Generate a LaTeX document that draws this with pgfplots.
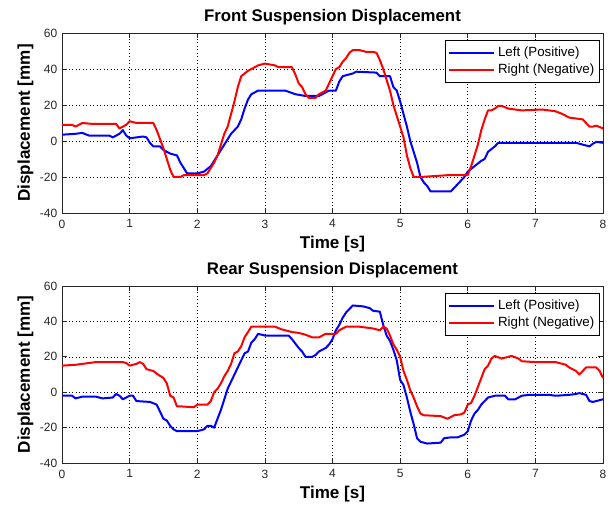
\documentclass[border=0pt]{standalone}
\usepackage{pgfplots}
\pgfplotsset{compat=1.18}
\usepackage{fontspec}
\setmainfont{Liberation Sans}
\begin{document}
\begin{tikzpicture}
\pgfplotsset{
  msty/.style={
    scale only axis, width=405.75pt,
    xmin=0, xmax=8, ymin=-40, ymax=60,
    xtick={0,...,8}, ytick={-40,-20,0,20,40,60},
    tick align=inside, tick pos=both, major tick length=4pt,
    grid=major,
    major grid style={black, line width=0.4pt, dash pattern=on 0.6pt off 2pt},
    axis line style={black!85, line width=0.5pt},
    tick style={black!85, line width=0.5pt},
    /pgf/number format/assume math mode=true,
    ticklabel style={font=\fontsize{9}{10}\selectfont, text=black!85},
    xticklabel style={yshift=-1.5pt},
    title style={font=\bfseries\fontsize{12.6}{14}\selectfont, yshift=-3.5pt},
    label style={font=\bfseries\fontsize{12.8}{14}\selectfont},
    xlabel style={yshift=1pt},
    ylabel style={yshift=-2pt},
    xlabel={Time [s]}, ylabel={Displacement [mm]},
    legend style={at={(1,1)}, anchor=north east, xshift=-2.25pt, yshift=-5.25pt,
      draw=black, line width=0.5pt, fill=white,
      font=\fontsize{10}{12}\selectfont, inner xsep=2pt, inner ysep=3pt, row sep=0pt,
      /tikz/every even column/.append style={column sep=0pt}},
    legend cell align=left,
    legend image code/.code={\draw[##1, line width=1.4pt] (0pt,0pt) -- (34pt,0pt);},
    every axis plot/.append style={line width=1.5pt, line join=round},
  }
}
\path[use as bounding box] (0,0) rectangle (456.75pt,-382.5pt);
\begin{axis}[msty, height=135pt, at={(46.5pt,-24.75pt)}, anchor=north west,
  title={Front Suspension Displacement}]
\addplot[blue] coordinates {
(0,3.5)(0.2,4)(0.3,4.5)(0.4,3)(0.7,3)(0.75,2)(0.85,4)(0.9,6)(0.95,3)(1.0,1.5)(1.2,2.5)(1.25,2)(1.3,-1)(1.35,-3)(1.45,-3)(1.5,-5)(1.6,-7)(1.7,-8)(1.75,-12)(1.8,-15)(1.85,-18)(2.0,-18)(2.1,-17)(2.2,-14)(2.3,-8)(2.4,-2)(2.5,4)(2.6,8)(2.65,12)(2.7,18)(2.75,23)(2.8,26)(2.9,28)(3.3,28)(3.45,26)(3.6,25)(3.8,25)(3.9,27)(3.95,28)(4.05,28)(4.1,33)(4.15,36)(4.25,37)(4.3,37.5)(4.35,38.5)(4.65,38)(4.7,36)(4.85,36)(4.9,30)(4.95,28)(5.0,22)(5.05,15)(5.1,8)(5.15,0)(5.2,-6)(5.25,-12)(5.3,-20)(5.35,-23)(5.4,-25)(5.45,-28)(5.6,-28)(5.75,-28)(5.8,-26)(5.9,-22)(5.95,-20)(6.0,-17)(6.1,-14)(6.2,-11)(6.25,-10)(6.3,-6)(6.4,-3)(6.45,-1)(6.5,-1)(7.6,-1)(7.7,-2)(7.8,-3)(7.85,-1.5)(7.9,-0.5)(8.0,-1)
};
\addlegendentry{Left (Positive)}
\addplot[red] coordinates {
(0,9)(0.15,9)(0.2,8)(0.3,10)(0.45,9.5)(0.8,9.5)(0.85,7)(0.9,8)(0.95,9)(1.0,11)(1.05,10.5)(1.1,10)(1.35,10)(1.4,6)(1.45,1)(1.5,-4)(1.55,-10)(1.6,-16)(1.65,-20)(1.75,-20)(1.8,-19)(2.1,-19)(2.15,-18)(2.25,-12)(2.3,-8)(2.35,-2)(2.4,4)(2.45,8)(2.5,15)(2.55,22)(2.6,30)(2.65,36)(2.75,39)(2.8,40)(2.9,42)(3.0,43)(3.15,42)(3.2,41)(3.4,41)(3.45,37)(3.5,32)(3.55,30)(3.6,26)(3.65,24)(3.75,24)(3.8,26)(3.85,27)(3.9,28)(3.95,32)(4.0,36)(4.05,40)(4.1,41)(4.15,44)(4.2,46)(4.25,49)(4.3,50.5)(4.4,50.5)(4.5,49.5)(4.6,49.5)(4.65,49)(4.7,45)(4.75,40)(4.8,34)(4.85,28)(4.9,20)(4.95,14)(5.0,8)(5.05,2)(5.1,-8)(5.15,-15)(5.2,-20)(5.3,-20)(5.5,-19.5)(5.7,-19)(6.0,-19)(6.05,-14)(6.1,-8)(6.15,-2)(6.2,6)(6.25,12)(6.3,17)(6.35,17)(6.4,18)(6.45,19.5)(6.5,19.5)(6.6,18)(6.8,17)(7.1,17.5)(7.3,16.5)(7.4,15)(7.5,13)(7.7,12)(7.75,10)(7.8,8)(7.85,8)(7.9,8.5)(8.0,7)
};
\addlegendentry{Right (Negative)}
\end{axis}
\begin{axis}[msty, height=132.75pt, at={(46.5pt,-214.5pt)}, anchor=north west,
  title={Rear Suspension Displacement}]
\addplot[blue] coordinates {
(0,-2)(0.15,-2)(0.2,-3.5)(0.3,-2.5)(0.5,-2.5)(0.6,-3.5)(0.75,-3)(0.8,-1)(0.85,-2)(0.9,-4)(1.0,-2)(1.05,-2)(1.1,-5)(1.3,-5.5)(1.4,-7)(1.45,-11)(1.5,-15)(1.55,-16)(1.6,-19)(1.65,-21)(1.7,-22)(1.9,-22)(2.0,-22)(2.1,-21)(2.15,-19)(2.2,-19)(2.25,-20)(2.3,-15)(2.35,-10)(2.4,-4)(2.45,2)(2.5,6)(2.55,10)(2.6,14)(2.65,18)(2.7,22)(2.75,23)(2.8,28)(2.85,30)(2.9,33)(3.0,32)(3.2,32)(3.35,32)(3.4,30)(3.5,25)(3.55,23)(3.6,20)(3.7,20)(3.75,21)(3.8,23)(3.9,25)(3.95,27)(4.0,30)(4.05,35)(4.1,38)(4.15,42)(4.2,45)(4.25,47)(4.3,49)(4.45,48.5)(4.55,47.5)(4.6,46)(4.7,45.5)(4.75,38)(4.8,32)(4.85,29)(4.9,24)(4.95,18)(5.0,7)(5.05,4)(5.1,-3)(5.15,-11)(5.2,-18)(5.25,-26)(5.3,-28)(5.4,-29)(5.6,-28.5)(5.65,-26)(5.75,-25.5)(5.85,-25.5)(5.95,-24)(6.0,-22)(6.05,-16)(6.1,-12)(6.15,-10)(6.2,-7)(6.3,-3)(6.4,-2)(6.55,-2)(6.6,-4)(6.7,-4)(6.8,-2)(6.9,-1.5)(7.2,-1.5)(7.3,-2)(7.5,-1.5)(7.6,-1)(7.65,-0.5)(7.75,-1.5)(7.8,-5)(7.85,-5.5)(7.9,-5)(8.0,-4)
};
\addlegendentry{Left (Positive)}
\addplot[red] coordinates {
(0,15)(0.2,15.5)(0.5,17)(0.9,17)(0.95,16.5)(1.0,15)(1.1,16)(1.15,17)(1.2,16)(1.25,13)(1.35,12)(1.4,10.5)(1.5,8)(1.55,5)(1.6,-2)(1.65,-3)(1.7,-8)(1.75,-8)(1.95,-8.5)(2.0,-7)(2.15,-7)(2.2,-5)(2.25,0)(2.3,2)(2.35,5)(2.4,9)(2.45,12)(2.5,16)(2.55,22)(2.6,23)(2.65,26)(2.7,31)(2.75,34)(2.8,37)(3.0,37)(3.15,37)(3.25,35.5)(3.4,34)(3.5,33.5)(3.6,32.5)(3.7,31)(3.8,31)(3.85,32)(3.9,33)(4.05,33)(4.1,35)(4.2,37)(4.4,37)(4.6,36)(4.7,35)(4.75,37)(4.8,36)(4.85,32)(4.9,27)(4.95,24)(5.0,20)(5.05,12)(5.1,7)(5.15,1)(5.2,-3)(5.25,-8)(5.3,-12)(5.35,-13)(5.6,-13.5)(5.7,-15)(5.8,-13)(5.9,-12.5)(5.95,-11.5)(6.0,-7)(6.05,-6)(6.1,-2)(6.15,3)(6.2,8)(6.25,13)(6.3,15)(6.35,19)(6.4,20.5)(6.5,19)(6.6,20)(6.65,20.5)(6.75,19)(6.8,17.5)(7.0,17)(7.3,17)(7.45,15.5)(7.5,14)(7.6,12)(7.65,10)(7.75,14)(7.9,14)(7.95,12)(8.0,8)
};
\addlegendentry{Right (Negative)}
\end{axis}
\end{tikzpicture}
\end{document}
